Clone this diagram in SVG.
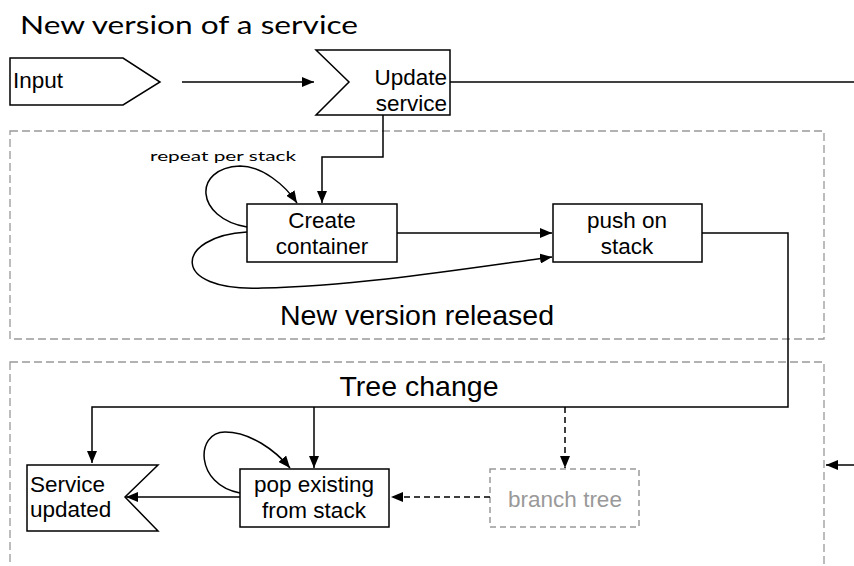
<svg xmlns="http://www.w3.org/2000/svg" width="854" height="566" viewBox="0 0 854 566">
  <style>
    .node { fill: #fff; stroke: #000; stroke-width: 1.5; }
    .ghost { fill: #fff; stroke: #999; stroke-width: 1.5; stroke-dasharray: 6 4; }
    .group { fill: none; stroke: #999; stroke-width: 1.3; stroke-dasharray: 8 4; }
    .edge { fill: none; stroke: #000; stroke-width: 1.5; }
    .dash { stroke-dasharray: 6 4; }
    .lbl { font-family: "Liberation Sans", Arial, sans-serif; font-size: 22.5px; fill: #000; }
    .muted { fill: #999; }
    .big { font-family: "Liberation Sans", Arial, sans-serif; font-size: 28.5px; fill: #000; }
    .geo { font-family: "Lato", "DejaVu Sans", sans-serif; fill: #000; }
  </style>
  <defs>
    <marker id="arrow" viewBox="0 0 12 10" refX="12" refY="5" markerWidth="12" markerHeight="10" markerUnits="userSpaceOnUse" orient="auto">
      <path d="M0,0 L12,5 L0,10 z" fill="#000"/>
    </marker>
  </defs>

  <rect width="854" height="566" fill="#fff"/>

  <!-- title -->
  <text class="geo" x="20" y="34" font-size="25" textLength="338" lengthAdjust="spacingAndGlyphs">New version of a service</text>

  <!-- group frames -->
  <g id="group-release">
    <rect class="group" x="10" y="131" width="814" height="208"/>
    <text class="big" x="417" y="325" text-anchor="middle">New version released</text>
  </g>
  <g id="group-tree">
    <rect class="group" x="10" y="362" width="814" height="240"/>
    <text class="big" x="419" y="396" text-anchor="middle">Tree change</text>
  </g>

  <!-- nodes -->
  <g id="input">
    <path class="node" d="M10,58 L123,58 L160,82 L123,105 L10,105 z"/>
    <text class="lbl" x="13" y="88">Input</text>
  </g>
  <g id="update-service">
    <path class="node" d="M316,50 L450,50 L450,115 L316,115 L349,82 z"/>
    <text class="lbl" x="447" y="85" text-anchor="end">Update</text>
    <text class="lbl" x="447" y="111" text-anchor="end">service</text>
  </g>
  <g id="create-container">
    <rect class="node" x="247" y="204" width="150" height="58"/>
    <text class="lbl" x="322" y="228" text-anchor="middle">Create</text>
    <text class="lbl" x="322" y="254" text-anchor="middle">container</text>
  </g>
  <g id="push-on-stack">
    <rect class="node" x="553" y="204" width="149" height="58"/>
    <text class="lbl" x="627" y="228" text-anchor="middle">push on</text>
    <text class="lbl" x="627" y="254" text-anchor="middle">stack</text>
  </g>
  <g id="service-updated">
    <path class="node" d="M27,465 L158,465 L125,497 L158,531 L27,531 z"/>
    <text class="lbl" x="30" y="492">Service</text>
    <text class="lbl" x="30" y="517">updated</text>
  </g>
  <g id="pop-existing">
    <rect class="node" x="240" y="469" width="149" height="58"/>
    <text class="lbl" x="314" y="492" text-anchor="middle">pop existing</text>
    <text class="lbl" x="314" y="518" text-anchor="middle">from stack</text>
  </g>
  <g id="branch-tree">
    <rect class="ghost" x="490" y="469" width="149" height="58"/>
    <text class="lbl muted" x="565" y="507" text-anchor="middle">branch tree</text>
  </g>

  <!-- connectors -->
  <g id="connectors">
    <path class="edge" d="M182,82 L314,82" marker-end="url(#arrow)"/>
    <path class="edge" d="M450,82 L854,82"/>
    <path class="edge" d="M383,115 L383,157 L322,157 L322,203" marker-end="url(#arrow)"/>
    <path class="edge" d="M247,227 C195,218 192,168 240,166 C262,166 285,185 297,203" marker-end="url(#arrow)"/>
    <text class="geo" x="150" y="161" font-size="14" textLength="146" lengthAdjust="spacingAndGlyphs">repeat per stack</text>
    <path class="edge" d="M397,233 L552,233" marker-end="url(#arrow)"/>
    <path class="edge" d="M247,232 C175,236 168,292 262,288 C360,286 470,268 552,257" marker-end="url(#arrow)"/>
    <path class="edge" d="M702,233 L788,233 L788,407 L92,407 L92,463" marker-end="url(#arrow)"/>
    <path class="edge" d="M314,407 L314,468" marker-end="url(#arrow)"/>
    <path class="edge dash" d="M565,407 L565,468" marker-end="url(#arrow)"/>
    <path class="edge" d="M240,497 L126,497" marker-end="url(#arrow)"/>
    <path class="edge" d="M240,493 C195,485 195,432 225,432 C250,432 275,450 290,468" marker-end="url(#arrow)"/>
    <path class="edge dash" d="M490,497 L391,497" marker-end="url(#arrow)"/>
    <path class="edge" d="M854,465 L826,465" marker-end="url(#arrow)"/>
  </g>
</svg>
